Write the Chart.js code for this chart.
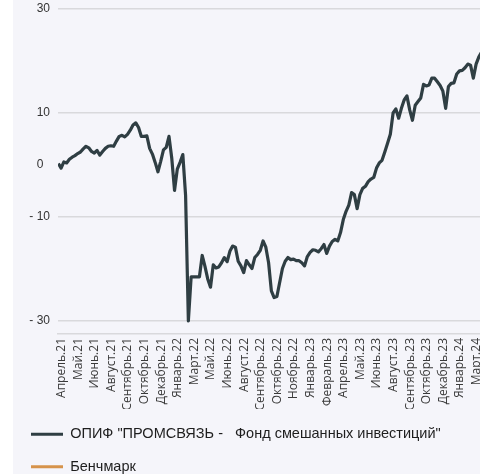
<!DOCTYPE html>
<html>
<head>
<meta charset="utf-8">
<script src="https://cdn.jsdelivr.net/npm/chart.js@4/dist/chart.umd.min.js"></script>
<style>
  body { margin: 0; background: #ffffff; }
  #wrap { position: absolute; left: 13px; top: 0; width: 467px; height: 474px; overflow: hidden; background: #f5f5fa; }
  #chart { display: block; }
</style>
</head>
<body>
<div id="wrap"><canvas id="chart" width="500" height="484"></canvas></div>
<script>
// Month labels as they appear under the axis (every ~29th trading day)
const tickLabels = [
  'Апрель.21', 'Май.21', 'Июнь.21', 'Август.21', 'Сентябрь.21', 'Октябрь.21', 'Декабрь.21',
  'Январь.22', 'Март.22', 'Май.22', 'Июнь.22', 'Август.22', 'Сентябрь.22', 'Октябрь.22',
  'Ноябрь.22', 'Январь.23', 'Февраль.23', 'Апрель.23', 'Май.23', 'Июнь.23', 'Август.23',
  'Сентябрь.23', 'Октябрь.23', 'Декабрь.23', 'Январь.24', 'Март.24'
];

// y axis ticks (gridline is not drawn at 0)
const yTickValues = [-30, -10, 0, 10, 30];
const yTickLabels = ['- 30', '- 10', '0  ', '10', '30'];

// Fund return, %, sampled six times per label step, first sample just before Апрель.21
const fundValues = [
   0.3, -0.6,  0.6,  0.4,  1.1,  1.5,  1.8,  2.2,  2.5,  3.1,  3.6,  3.3,
   2.6,  2.3,  2.8,  1.9,  2.6,  3.2,  3.6,  3.7,  3.6,  4.6,  5.5,  5.7,
   5.4,  5.9,  6.7,  7.7,  8.1,  7.2,  5.5,  5.5,  5.6,  3.2,  2.1,  0.5,
  -1.3,  0.7,  2.9,  3.4,  5.5,  1.3, -4.9, -0.8,  0.5,  2.0, -5.9, -30,
  -21.5, -21.5, -21.5, -21.5, -17.4, -19.5, -21.9, -23.5, -19.2, -19.8, -19.6, -18.8,
  -17.8, -18.6, -16.6, -15.6, -15.8, -18.5, -19.4, -20.7, -18.4, -19.2, -19.9, -17.8,
  -17.2, -16.4, -14.6, -15.8, -18.8, -24.2, -25.5, -25.3, -22.6, -19.9, -18.5, -17.8,
  -18.2, -18.1, -18.4, -18.4, -18.8, -19.4, -17.6, -16.8, -16.3, -16.4, -16.7, -16.1,
  -15.3, -17.0, -15.6, -14.7, -14.3, -14.6, -13.0, -10.5, -8.9, -7.7, -5.3, -5.7,
  -8.4, -5.7, -4.5, -4.1, -3.2, -2.7, -2.4, -0.6,  0.4,  0.9,  2.5,  4.2,
   5.9, 10.0, 10.8,  9.0, 10.9, 12.5, 13.3, 10.6,  8.6, 11.5, 12.2, 12.9,
  15.5, 15.2, 15.4, 16.7, 16.7, 16.0, 15.3, 14.2, 10.9, 15.1, 15.7, 15.8,
  17.5, 18.1, 18.2, 18.7, 19.4, 19.2, 16.7, 19.4, 20.8, 21.7
];
const benchmarkValues = [];

const SAMPLES_PER_LABEL = 6;
const X0 = -0.2;

const toPoints = arr => arr.map((v, i) => ({ x: X0 + i / SAMPLES_PER_LABEL, y: v }));

const FUND_COLOR = '#2f3e43';
const BENCH_COLOR = '#d6934b';

const ctx = document.getElementById('chart');
const chart = new Chart(ctx.getContext('2d'), {
  type: 'line',
  data: {
    datasets: [
      { label: 'ОПИФ "ПРОМСВЯЗЬ -   Фонд смешанных инвестиций"', data: toPoints(fundValues),
        borderColor: FUND_COLOR, backgroundColor: FUND_COLOR, borderWidth: 3.2, pointRadius: 0,
        tension: 0, borderJoinStyle: 'round' },
      { label: 'Бенчмарк', data: toPoints(benchmarkValues),
        borderColor: BENCH_COLOR, backgroundColor: BENCH_COLOR, borderWidth: 3, pointRadius: 0 }
    ]
  },
  options: {
    responsive: false,
    animation: false,
    devicePixelRatio: 1,
    layout: { padding: { top: 9, left: 0, right: 0, bottom: 0 } },
    plugins: {
      tooltip: { enabled: false },
      legend: {
        position: 'bottom',
        align: 'start',
        labels: {
          boxWidth: 32,
          boxHeight: 3,
          padding: 18,
          color: '#1e1e1e',
          font: { family: 'Liberation Sans', size: 14.5 },
          generateLabels: c => Chart.defaults.plugins.legend.labels.generateLabels(c)
            .map(l => Object.assign(l, { lineWidth: 0 }))
        }
      }
    },
    scales: {
      x: {
        type: 'linear',
        min: -0.22,
        max: 27.19,
        afterBuildTicks: s => { s.ticks = tickLabels.map((_, k) => ({ value: k })); },
        afterFit: s => { s.height = 75; },
        grid: { display: true, drawOnChartArea: false, drawTicks: false },
        border: { display: true, color: '#d9d9dc', width: 1.5 },
        ticks: {
          autoSkip: false,
          minRotation: 90,
          maxRotation: 90,
          padding: 4,
          color: '#3a3a3a',
          font: { family: 'Open Sans', size: 12 },
          callback: v => tickLabels[v]
        }
      },
      y: {
        min: -32.5,
        max: 30,
        afterBuildTicks: s => { s.ticks = yTickValues.map(v => ({ value: v })); },
        afterFit: s => { s.width = 45; s.paddingTop = 0; s.paddingBottom = 0; },
        grid: {
          drawTicks: false,
          lineWidth: 1.5,
          color: c => (c.tick && c.tick.value === 0) ? 'rgba(0,0,0,0)' : '#d9d9dc'
        },
        border: { display: false },
        ticks: {
          padding: 8,
          color: '#333333',
          font: { family: 'Liberation Sans', size: 12 },
          callback: v => yTickLabels[yTickValues.indexOf(v)]
        }
      }
    }
  }
});
</script>
</body>
</html>
